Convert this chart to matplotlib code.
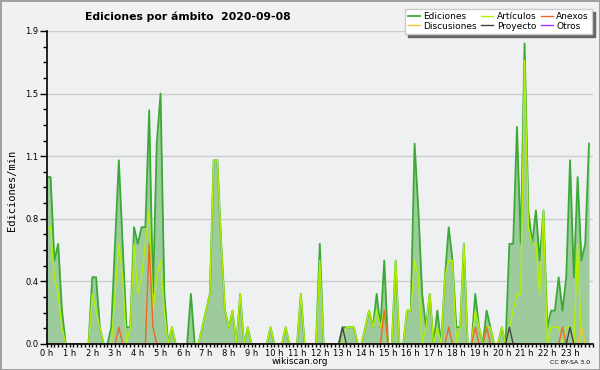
import matplotlib.pyplot as plt
import numpy as np
from matplotlib.ticker import FixedLocator, MultipleLocator

hours = [f'{h} h' for h in range(24)]
y_ticks = [0, 0.375, 0.75, 1.125, 1.5, 1.875]
y_tick_labels = ['0.0', '0.4', '0.8', '1.1', '1.5', '1.9']

# edits per minute, one value every 10 minutes (one row = one hour)
ediciones = [
    1.0, 1.0, 0.5, 0.6, 0.2, 0.0,
    0.0, 0.0, 0.0, 0.0, 0.0, 0.0,
    0.4, 0.4, 0.1, 0.0, 0.0, 0.1,
    0.6, 1.1, 0.6, 0.1, 0.1, 0.7,
    0.6, 0.7, 0.7, 1.4, 0.3, 1.2,
    1.5, 0.3, 0.0, 0.1, 0.0, 0.0,
    0.0, 0.0, 0.3, 0.0, 0.0, 0.1,
    0.2, 0.3, 1.1, 1.1, 0.6, 0.2,
    0.1, 0.2, 0.0, 0.3, 0.0, 0.1,
    0.0, 0.0, 0.0, 0.0, 0.0, 0.1,
    0.0, 0.0, 0.0, 0.1, 0.0, 0.0,
    0.0, 0.3, 0.0, 0.0, 0.0, 0.0,
    0.6, 0.0, 0.0, 0.0, 0.0, 0.0,
    0.1, 0.1, 0.1, 0.1, 0.0, 0.0,
    0.1, 0.2, 0.1, 0.3, 0.1, 0.5,
    0.0, 0.0, 0.5, 0.0, 0.0, 0.2,
    0.2, 1.2, 0.8, 0.3, 0.1, 0.3,
    0.0, 0.2, 0.0, 0.4, 0.7, 0.5,
    0.1, 0.1, 0.6, 0.0, 0.0, 0.3,
    0.1, 0.0, 0.2, 0.1, 0.0, 0.0,
    0.1, 0.0, 0.6, 0.6, 1.3, 0.6,
    1.8, 0.8, 0.6, 0.8, 0.5, 0.8,
    0.1, 0.2, 0.2, 0.4, 0.2, 0.4,
    1.1, 0.4, 1.0, 0.5, 0.6, 1.2,
]
articulos = [
    0.7, 0.7, 0.4, 0.3, 0.1, 0.0,
    0.0, 0.0, 0.0, 0.0, 0.0, 0.0,
    0.3, 0.2, 0.1, 0.0, 0.0, 0.0,
    0.3, 0.6, 0.4, 0.0, 0.1, 0.6,
    0.3, 0.4, 0.6, 0.8, 0.2, 0.4,
    0.5, 0.2, 0.0, 0.1, 0.0, 0.0,
    0.0, 0.0, 0.0, 0.0, 0.0, 0.1,
    0.2, 0.3, 1.1, 1.1, 0.6, 0.2,
    0.1, 0.2, 0.0, 0.3, 0.0, 0.1,
    0.0, 0.0, 0.0, 0.0, 0.0, 0.1,
    0.0, 0.0, 0.0, 0.1, 0.0, 0.0,
    0.0, 0.3, 0.0, 0.0, 0.0, 0.0,
    0.5, 0.0, 0.0, 0.0, 0.0, 0.0,
    0.0, 0.1, 0.1, 0.1, 0.0, 0.0,
    0.1, 0.2, 0.1, 0.2, 0.1, 0.2,
    0.0, 0.0, 0.5, 0.0, 0.0, 0.2,
    0.2, 0.5, 0.4, 0.0, 0.1, 0.3,
    0.0, 0.1, 0.0, 0.4, 0.5, 0.5,
    0.0, 0.1, 0.6, 0.0, 0.0, 0.2,
    0.1, 0.0, 0.1, 0.1, 0.0, 0.0,
    0.1, 0.0, 0.1, 0.2, 0.3, 0.3,
    1.7, 0.7, 0.6, 0.6, 0.3, 0.8,
    0.0, 0.1, 0.1, 0.1, 0.0, 0.1,
    0.1, 0.0, 0.6, 0.0, 0.0, 0.0,
]
anexos = [
    0, 0, 0, 0, 0, 0,
    0, 0, 0, 0, 0, 0,
    0, 0, 0, 0, 0, 0,
    0, 0.1, 0, 0, 0, 0,
    0, 0, 0, 0.6, 0.1, 0,
    0, 0, 0, 0, 0, 0,
    0, 0, 0, 0, 0, 0,
    0, 0, 0, 0, 0, 0,
    0, 0, 0, 0, 0, 0,
    0, 0, 0, 0, 0, 0,
    0, 0, 0, 0, 0, 0,
    0, 0, 0, 0, 0, 0,
    0, 0, 0, 0, 0, 0,
    0, 0, 0, 0, 0, 0,
    0, 0, 0, 0, 0, 0.2,
    0, 0, 0, 0, 0, 0,
    0, 0, 0, 0, 0, 0,
    0, 0, 0, 0, 0.1, 0,
    0, 0, 0, 0, 0, 0.1,
    0, 0, 0.1, 0, 0, 0,
    0, 0, 0, 0, 0, 0,
    0, 0, 0, 0, 0, 0,
    0, 0, 0, 0, 0.1, 0,
    0, 0, 0, 0, 0, 0,
]
proyecto = [
    0, 0, 0, 0, 0, 0,
    0, 0, 0, 0, 0, 0,
    0, 0, 0, 0, 0, 0,
    0, 0, 0, 0, 0, 0,
    0, 0, 0, 0, 0, 0,
    0, 0, 0, 0, 0, 0,
    0, 0, 0, 0, 0, 0,
    0, 0, 0, 0, 0, 0,
    0, 0, 0, 0, 0, 0,
    0, 0, 0, 0, 0, 0,
    0, 0, 0, 0, 0, 0,
    0, 0, 0, 0, 0, 0,
    0, 0, 0, 0, 0, 0,
    0.1, 0, 0, 0, 0, 0,
    0, 0, 0, 0, 0, 0,
    0, 0, 0, 0, 0, 0,
    0, 0, 0, 0, 0, 0,
    0, 0, 0, 0, 0, 0,
    0, 0, 0, 0, 0, 0,
    0, 0, 0, 0, 0, 0,
    0, 0, 0.1, 0, 0, 0,
    0, 0, 0, 0, 0, 0,
    0, 0, 0, 0, 0, 0,
    0.1, 0, 0, 0, 0, 0,
]
discusiones = [0] * 141 + [0.1, 0, 0]
otros = [0] * 144

t = np.arange(len(ediciones)) / 6

fig = plt.figure(figsize=(6, 3.7), dpi=100)
fig.patch.set_facecolor('#f1f1f1')
fig.patch.set_edgecolor('#a0a0a0')
fig.patch.set_linewidth(2)

ax = fig.add_axes([0.078, 0.0703, 0.910, 0.846])
ax.set_facecolor('#eef0f2')

ax.fill_between(t, ediciones, color='#9ecb9e', lw=0)
l_edi, = ax.plot(t, ediciones, color='#3aaa35', lw=1.3)
l_art, = ax.plot(t, articulos, color='#b4f000', lw=1.0)
l_anx, = ax.plot(t, anexos, color='#f26522', lw=1.0)
l_pro, = ax.plot(t, proyecto, color='#444444', lw=1.0)
l_dis, = ax.plot(t, discusiones, color='#f7c234', lw=1.0)
l_otr, = ax.plot(t, otros, color='#9933ff', lw=1.0)

ax.set_xlim(0, 24)
ax.set_ylim(0, 1.875)
ax.xaxis.set_major_locator(FixedLocator(range(24)))
ax.set_xticklabels(hours)
ax.xaxis.set_minor_locator(MultipleLocator(1 / 6))
ax.set_yticks(y_ticks)
ax.set_yticklabels(y_tick_labels)
ax.yaxis.set_minor_locator(MultipleLocator(0.09375))

ax.tick_params(axis='x', which='both', direction='out', length=2.5, width=1, labelsize=6, pad=1)
ax.tick_params(axis='y', which='major', length=5, width=1, labelsize=6, pad=1)
ax.tick_params(axis='y', which='minor', length=3, width=1)

ax.yaxis.grid(True, color='#cdcdcd', lw=1)
ax.set_axisbelow(True)
for s in ['top', 'right']:
    ax.spines[s].set_visible(False)
for s in ['left', 'bottom']:
    ax.spines[s].set_linewidth(1.2)
    ax.spines[s].set_zorder(5)

fig.text(85 / 600, 1 - 17 / 370, 'Ediciones por ámbito  2020-09-08',
         fontsize=7.8, weight='bold', va='center')
fig.text(12 / 600, 1 - 190 / 370, 'Ediciones/min', rotation=90,
         fontsize=7.5, family='DejaVu Sans Mono', ha='center', va='center')
fig.text(300 / 600, 1 - 362 / 370, 'wikiscan.org', ha='center', va='center', fontsize=6.5)
fig.text(590 / 600, 1 - 362 / 370, 'CC BY-SA 3.0', ha='right', va='center', fontsize=4.5)

leg = ax.legend([l_edi, l_dis, l_art, l_pro, l_anx, l_otr],
                ['Ediciones', 'Discusiones', 'Artículos', 'Proyecto', 'Anexos', 'Otros'],
                ncol=3, loc='upper right', bbox_to_anchor=(592 / 600, 1 - 9 / 370),
                bbox_transform=fig.transFigure, fontsize=6.5, frameon=True,
                fancybox=False, shadow={'color': '#666666', 'alpha': 1},
                handlelength=1.3, handletextpad=0.4, columnspacing=0.5,
                labelspacing=0.05, borderpad=0.35, borderaxespad=0)
leg.get_frame().set_facecolor('white')
leg.get_frame().set_edgecolor('#cccccc')
leg.get_frame().set_alpha(1)
leg.set_zorder(10)

fig.savefig('out.png', dpi=100, facecolor=fig.get_facecolor(), edgecolor=fig.get_edgecolor())
